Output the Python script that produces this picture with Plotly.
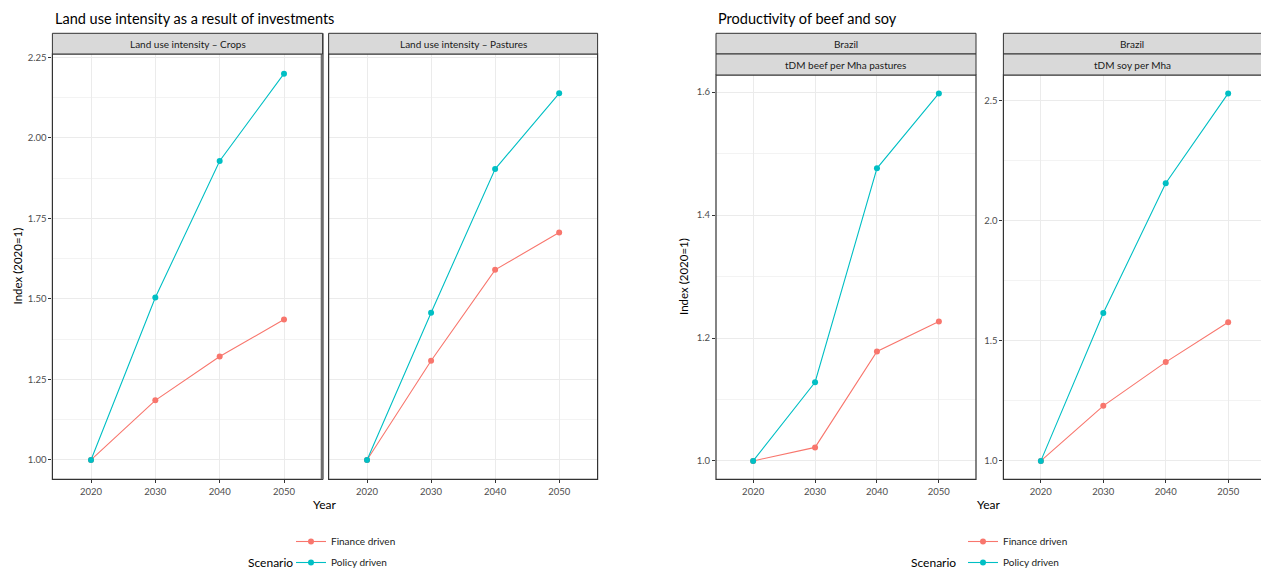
import plotly.graph_objects as go

W, H = 1261, 569

years = [2020, 2030, 2040, 2050]
scenarios = ["Finance driven", "Policy driven"]
colors = {"Finance driven": "#F8766D", "Policy driven": "#00BFC4"}

crops_finance = [1.0, 1.185, 1.321, 1.436]
crops_policy = [1.0, 1.504, 1.928, 2.199]
pastures_finance = [1.0, 1.308, 1.590, 1.706]
pastures_policy = [1.0, 1.457, 1.903, 2.138]
beef_finance = [1.0, 1.022, 1.178, 1.227]
beef_policy = [1.0, 1.128, 1.476, 1.598]
soy_finance = [1.0, 1.229, 1.411, 1.577]
soy_policy = [1.0, 1.615, 2.155, 2.529]

strip_crops = "Land use intensity – Crops"
strip_pastures = "Land use intensity – Pastures"
strip_country = "Brazil"
strip_beef = "tDM beef per Mha pastures"
strip_soy = "tDM soy per Mha"
title_left = "Land use intensity as a result of investments"
title_right = "Productivity of beef and soy"
ytitle = "Index (2020=1)"
xtitle = "Year"
legend_title = "Scenario"

FONT = "Lato"

def px(x):
    return x / W

def py(y):
    return 1 - y / H

# panel pixel boxes (left, right, top, bottom)
panels = {
    1: (52.4, 322.6, 54, 479.3),
    2: (328.6, 597.6, 54, 479.3),
    3: (716, 976, 75, 479.3),
    4: (1003.4, 1261, 75, 479.3),
}

fig = go.Figure()

series = {
    1: {"Finance driven": crops_finance, "Policy driven": crops_policy},
    2: {"Finance driven": pastures_finance, "Policy driven": pastures_policy},
    3: {"Finance driven": beef_finance, "Policy driven": beef_policy},
    4: {"Finance driven": soy_finance, "Policy driven": soy_policy},
}

for p in [1, 2, 3, 4]:
    for s in scenarios:
        fig.add_trace(go.Scatter(
            x=years, y=series[p][s], mode="lines+markers", name=s,
            line=dict(color=colors[s], width=1.1),
            marker=dict(color=colors[s], size=6),
            xaxis="x" if p == 1 else f"x{p}",
            yaxis="y" if p == 1 else f"y{p}",
            showlegend=(p in (1, 3)),
            legend="legend" if p <= 2 else "legend2",
            legendgroup=s + str(1 if p <= 2 else 2),
        ))

xranges = {1: [2014, 2056], 2: [2014, 2056], 3: [2014, 2056], 4: [2014, 2055.26]}
yranges = {1: [0.94, 2.26], 2: [0.94, 2.26], 3: [0.9701, 1.6279], 4: [0.9235, 2.6055]}
ydticks = {1: 0.25, 2: 0.25, 3: 0.2, 4: 0.5}

layout = dict(
    width=W, height=H, autosize=False,
    margin=dict(l=0, r=0, t=0, b=0, pad=0, autoexpand=False),
    paper_bgcolor="white", plot_bgcolor="white",
    font=dict(family=FONT, size=10, color="#4D4D4D"),
)

for p in [1, 2, 3, 4]:
    l, r, t, b = panels[p]
    xk = "xaxis" if p == 1 else f"xaxis{p}"
    yk = "yaxis" if p == 1 else f"yaxis{p}"
    ya = "y" if p == 1 else f"y{p}"
    xa = "x" if p == 1 else f"x{p}"
    layout[xk] = dict(
        domain=[px(l), min(px(r), 1.0)], anchor=ya, range=xranges[p],
        tickvals=years, ticktext=[str(v) for v in years],
        showgrid=True, gridcolor="#EBEBEB", gridwidth=1,
        zeroline=False, showline=False, automargin=False,
        ticks="outside", ticklen=3, tickwidth=1, tickcolor="#333333",
        tickfont=dict(family=FONT, size=9.5, color="#4D4D4D"),
        fixedrange=True,
    )
    ycfg = dict(
        domain=[py(b), py(t)], anchor=xa, range=yranges[p],
        tick0=1.0, dtick=ydticks[p], tickmode="linear",
        showgrid=True, gridcolor="#EBEBEB", gridwidth=1,
        minor=dict(tick0=1.0, dtick=ydticks[p] / 2, showgrid=True,
                   gridcolor="#F3F3F3", gridwidth=0.6, ticks=""),
        zeroline=False, showline=False, automargin=False,
        ticks="outside", ticklen=3, tickwidth=1, tickcolor="#333333",
        tickfont=dict(family=FONT, size=9.5, color="#4D4D4D"),
        fixedrange=True,
    )
    if p == 2:
        ycfg["matches"] = "y"
        ycfg["showticklabels"] = False
        ycfg["ticks"] = ""
    if p == 1:
        ycfg["tickformat"] = ".2f"
    if p in (3, 4):
        ycfg["tickformat"] = ".1f"
    layout[yk] = ycfg

fig.update_layout(**layout)

shapes = []
annotations = []

def strip(l, r, t, b, text):
    shapes.append(dict(type="rect", xref="paper", yref="paper",
                       x0=px(l), x1=px(r), y0=py(b), y1=py(t),
                       fillcolor="#D9D9D9", line=dict(color="#333333", width=1),
                       layer="above"))
    annotations.append(dict(xref="paper", yref="paper", x=px((l + min(r, W)) / 2),
                            y=py((t + b) / 2), text=text, showarrow=False,
                            font=dict(family=FONT, size=10, color="#1A1A1A"),
                            xanchor="center", yanchor="middle"))

for p in [1, 2, 3, 4]:
    l, r, t, b = panels[p]
    rr = r if p != 4 else W + 10
    shapes.append(dict(type="rect", xref="paper", yref="paper",
                       x0=px(l), x1=px(rr), y0=py(b), y1=py(t),
                       line=dict(color="#333333", width=1.2), layer="above"))

# thicker right border on first panel, as in reference
shapes.append(dict(type="line", xref="paper", yref="paper",
                   x0=px(322.2), x1=px(322.2), y0=py(479.3), y1=py(33.3),
                   line=dict(color="#6E6E6E", width=3), layer="above"))

strip(52.4, 322.6, 33.3, 54, strip_crops)
strip(328.6, 597.6, 33.3, 54, strip_pastures)
strip(716, 976, 33.3, 54, strip_country)
strip(716, 976, 54, 75, strip_beef)
strip(1003.4, W + 10, 33.3, 54, strip_country)
strip(1003.4, W + 10, 54, 75, strip_soy)

# titles
annotations.append(dict(xref="paper", yref="paper", x=px(52.5), y=py(19),
                        text=title_left, showarrow=False, xanchor="left", yanchor="middle",
                        font=dict(family=FONT, size=14.5, color="#000000")))
annotations.append(dict(xref="paper", yref="paper", x=px(715.5), y=py(19),
                        text=title_right, showarrow=False, xanchor="left", yanchor="middle",
                        font=dict(family=FONT, size=14.5, color="#000000")))
# y titles
for xx, yy in [(17, 266.5), (684, 277)]:
    annotations.append(dict(xref="paper", yref="paper", x=px(xx), y=py(yy),
                            text=ytitle, showarrow=False, textangle=-90,
                            xanchor="center", yanchor="middle",
                            font=dict(family=FONT, size=11.5, color="#000000")))
# x titles
for xx in [325, 988]:
    annotations.append(dict(xref="paper", yref="paper", x=px(xx), y=py(504),
                            text=xtitle, showarrow=False, xanchor="center", yanchor="middle",
                            font=dict(family=FONT, size=12, color="#000000")))
# legend titles
for xx in [295, 958]:
    annotations.append(dict(xref="paper", yref="paper", x=px(xx), y=py(562),
                            text=legend_title, showarrow=False, xanchor="right", yanchor="middle",
                            font=dict(family=FONT, size=12, color="#000000")))

leg_common = dict(xanchor="left", yanchor="top", bgcolor="rgba(0,0,0,0)",
                  font=dict(family=FONT, size=10, color="#1A1A1A"),
                  tracegroupgap=2, itemclick=False, itemdoubleclick=False,
                  traceorder="grouped")
fig.update_layout(
    shapes=shapes, annotations=annotations,
    legend=dict(x=px(291), y=py(527), **leg_common),
    legend2=dict(x=px(963), y=py(527), **leg_common),
)

fig.write_html(
    "out.html",
    config={"displayModeBar": False, "responsive": False},
    post_script="document.body.style.margin='0';document.body.style.padding='0';"
                "document.documentElement.style.overflow='hidden';"
                "document.body.style.overflow='hidden';",
)
